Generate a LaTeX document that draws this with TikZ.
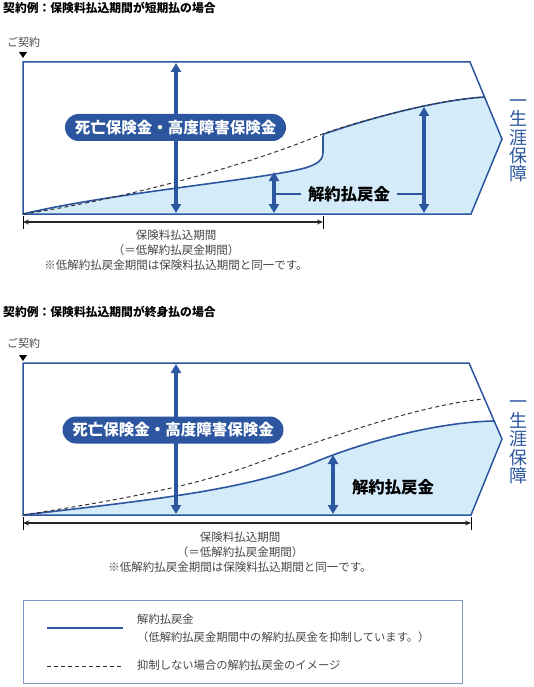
\documentclass[tikz,border=0pt]{standalone}
\usepackage{fontspec}
\setmainfont{Noto Sans CJK JP}
\usetikzlibrary{positioning, arrows.meta, calc}

\definecolor{kblue}{RGB}{44,86,160}
\definecolor{kfill}{RGB}{212,235,250}
\definecolor{kgray}{RGB}{70,70,70}
\definecolor{klegend}{RGB}{130,150,195}

\begin{document}
\begin{tikzpicture}[
  x=1pt, y=-1pt,
  % 文字の書式
  headline/.style={anchor=west, inner sep=0pt, font=\fontsize{11.8}{13}\selectfont\bfseries},
  startlabel/.style={inner sep=0pt, text=kgray, font=\fontsize{11}{12}\selectfont},
  note/.style={inner sep=0pt, text=kgray, align=center, font=\fontsize{11.5}{15}\selectfont},
  pill/.style={fill=kblue, rounded corners=13.5pt, text=white, minimum width=221pt, minimum height=27pt, inner sep=0pt, font=\fontsize{15.5}{16}\selectfont\bfseries},
  refund/.style={inner sep=7pt, font=\fontsize{16.4}{17}\selectfont\bfseries},
  lifelong/.style={align=center, inner sep=0pt, text=kblue, font=\fontsize{18}{18.4}\selectfont},
  legendtext/.style={anchor=west, inner sep=0pt, text=kgray, align=left, font=\fontsize{11.3}{18}\selectfont},
  % 線の書式
  planbox/.style={draw=kblue, line width=1.5pt, line join=miter},
  solidcurve/.style={draw=kblue, line width=1.6pt},
  dashcurve/.style={draw=black!80, line width=1pt, dash pattern=on 4pt off 3pt},
  bigarrow/.style={draw=kblue, line width=3.5pt, {Triangle[width=10pt,length=9pt]}-{Triangle[width=10pt,length=9pt]}},
  linkline/.style={draw=kblue, line width=1.5pt},
  spanarrow/.style={draw=black!85, line width=1.6pt, {Stealth[length=6pt,width=5pt]}-{Stealth[length=6pt,width=5pt]}},
  spantick/.style={draw=black, line width=0.8pt}
]
  \useasboundingbox (0,0) rectangle (533,687);

  % ==========================================
  % 契約例1：短期払
  % ==========================================
  \node[headline] (head1) at (3,8) {契約例：保険料払込期間が短期払の場合};
  \coordinate (start1) at (23,214);
  \node[startlabel] (contract1) at (23.5,42) {ご契約};
  \fill (19,52) -- (27,52) -- (23,58) -- cycle;

  % 解約払戻金の領域
  \fill[kfill] (start1) .. controls (110,193) and (260,180) .. (305,168)
    .. controls (318,164) and (323,160) .. (323,152) -- (323,137)
    .. controls (323,134) and (324,133) .. (327,133)
    .. controls (380,115) and (440,100) .. (484.5,97) -- (502,139) -- (471,214) -- cycle;

  % 外枠
  \draw[planbox] (start1) -- (23,62) -- (470,62) -- (502,139) -- (471,214) -- cycle;

  % 曲線
  \draw[solidcurve] (start1) .. controls (110,193) and (260,180) .. (305,168)
    .. controls (318,164) and (323,160) .. (323,152) -- (323,137)
    .. controls (323,134) and (324,133) .. (327,133)
    .. controls (380,115) and (440,100) .. (484.5,97);
  \draw[dashcurve] (start1) .. controls (120,200) and (250,165) .. (325,133)
    .. controls (380,115) and (440,100) .. (484.5,97);

  % 矢印
  \coordinate (death1top) at (176,63);
  \coordinate (death1bot) at (176,213);
  \draw[bigarrow] (death1top) -- (death1bot);
  \node[pill] (pill1) at (175.5,127.5) {死亡保険金・高度障害保険金};

  \coordinate (ref1atop) at (274,172);
  \coordinate (ref1abot) at (274,213);
  \coordinate (ref1btop) at (424,107);
  \coordinate (ref1bbot) at (424,213);
  \draw[bigarrow] (ref1atop) -- (ref1abot);
  \draw[bigarrow] (ref1btop) -- (ref1bbot);
  \node[refund] (refund1) at (349,194) {解約払戻金};
  \draw[linkline] (refund1.west -| ref1atop) -- (refund1.west);
  \draw[linkline] (refund1.east) -- (refund1.east -| ref1btop);

  \node[lifelong] (life1) at (518,141) {一\\生\\涯\\保\\障};

  % 払込期間
  \coordinate (span1l) at (23,222);
  \coordinate (span1r) at (323,222);
  \draw[spantick] (23,216) -- (23,229);
  \draw[spantick] (323,216) -- (323,229);
  \draw[spanarrow] (span1l) -- (span1r);
  \node[note] (note1) at (176,250) {保険料払込期間\\（＝低解約払戻金期間）\\※低解約払戻金期間は保険料払込期間と同一です。};

  % ==========================================
  % 契約例2：終身払
  % ==========================================
  \node[headline] (head2) at (3,312) {契約例：保険料払込期間が終身払の場合};
  \coordinate (start2) at (23,515);
  \node[startlabel] (contract2) at (23.5,343) {ご契約};
  \fill (19,355) -- (27,355) -- (23,361) -- cycle;

  % 解約払戻金の領域
  \fill[kfill] (start2) .. controls (150,500) and (250,490) .. (320,460)
    .. controls (370,440) and (440,422) .. (494,421) -- (502,439) -- (471,515) -- cycle;

  % 外枠
  \draw[planbox] (start2) -- (23,363) -- (469,363) -- (502,439) -- (471,515) -- cycle;

  % 曲線
  \draw[solidcurve] (start2) .. controls (150,500) and (250,490) .. (320,460)
    .. controls (370,440) and (440,422) .. (494,421);
  \draw[dashcurve] (start2) .. controls (120,500) and (200,485) .. (260,462)
    .. controls (330,437) and (420,405) .. (484,399);

  % 矢印
  \coordinate (death2top) at (176,364);
  \coordinate (death2bot) at (176,514);
  \draw[bigarrow] (death2top) -- (death2bot);
  \node[pill] (pill2) at (173,430) {死亡保険金・高度障害保険金};

  \coordinate (ref2top) at (333,455);
  \coordinate (ref2bot) at (333,514);
  \draw[bigarrow] (ref2top) -- (ref2bot);
  \node[refund] (refund2) at (393,487) {解約払戻金};

  \node[lifelong] (life2) at (518,442.5) {一\\生\\涯\\保\\障};

  % 払込期間
  \coordinate (span2l) at (23,523);
  \coordinate (span2r) at (471,523);
  \draw[spantick] (23,517) -- (23,530);
  \draw[spantick] (471,517) -- (471,530);
  \draw[spanarrow] (span2l) -- (span2r);
  \node[note] (note2) at (240,552) {保険料払込期間\\（＝低解約払戻金期間）\\※低解約払戻金期間は保険料払込期間と同一です。};

  % ==========================================
  % 凡例
  % ==========================================
  \draw[klegend, line width=0.8pt] (23,600) rectangle (462,683);
  \coordinate (leg1l) at (47,628);
  \coordinate (leg1r) at (123,628);
  \draw[solidcurve] (leg1l) -- (leg1r);
  \node[legendtext] (leg1text) at (137,628) {解約払戻金\\（低解約払戻金期間中の解約払戻金を抑制しています。）};
  \coordinate (leg2l) at (47,666);
  \coordinate (leg2r) at (123,666);
  \draw[dashcurve] (leg2l) -- (leg2r);
  \node[legendtext] (leg2text) at (137,665) {抑制しない場合の解約払戻金のイメージ};

\end{tikzpicture}
\end{document}
